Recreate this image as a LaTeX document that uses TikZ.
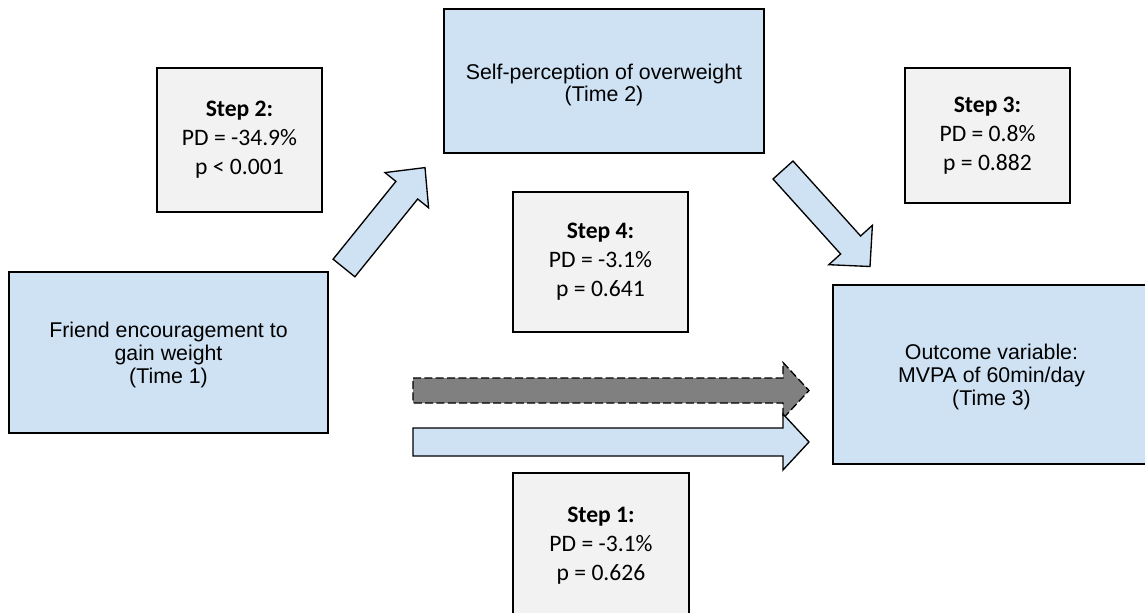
\documentclass[tikz,border=0pt]{standalone}
\usepackage{fontspec}
\setmainfont{Carlito}
\newfontfamily\arialf{Liberation Sans}
\definecolor{lblue}{HTML}{CFE2F3}
\definecolor{lgray}{HTML}{F2F2F2}
\definecolor{dgray}{HTML}{808080}
\begin{document}
\begin{tikzpicture}[x=0.75pt,y=-0.75pt,
  varbox/.style={draw=black, fill=lblue, line width=1pt, align=center, inner sep=0pt,
    font=\arialf\fontsize{16}{17}\selectfont},
  vartext/.style={align=center, inner sep=0pt, font=\arialf\fontsize{16}{17}\selectfont},
  stepbox/.style={draw=black, fill=lgray, line width=1pt, align=center, inner sep=0pt,
    font=\fontsize{17.7}{21.8}\selectfont},
  blockarrow/.style={draw=black, fill=lblue, line width=1pt, line join=miter},
  dasharrow/.style={draw=black, fill=dgray, line width=1pt, line join=miter, dash pattern=on 6pt off 2.5pt}]
\useasboundingbox (0,0) rectangle (1145,613);
\clip (0,0) rectangle (1145,613);

% variable boxes
\node[varbox, minimum width=239.25pt, minimum height=120.75pt] (friend) at (168.5,352.5) {};
\node[vartext] (friendtext) at (168.5,355) {Friend encouragement to\\gain weight\\(Time 1)};
\node[varbox, minimum width=240pt, minimum height=108pt] (sp) at (604,81) {};
\node[vartext] (sptext) at (604,85) {Self-perception of overweight\\(Time 2)};
\node[varbox, minimum width=237.75pt, minimum height=134.25pt] (outcome) at (991.5,374.5) {};
\node[vartext] (outcometext) at (991.5,377) {Outcome variable:\\MVPA of 60min/day\\(Time 3)};

% step boxes
\node[stepbox, minimum width=123.75pt, minimum height=108pt] (step2) at (239.5,140) {\textbf{Step 2:}\\PD = -34.9\%\\p < 0.001};
\node[stepbox, minimum width=131.25pt, minimum height=105pt] (step4) at (600.5,262) {\textbf{Step 4:}\\PD = -3.1\%\\p = 0.641};
\node[stepbox, minimum width=123.75pt, minimum height=101.25pt] (step3) at (987.5,135.5) {\textbf{Step 3:}\\PD = 0.8\%\\p = 0.882};
\node[stepbox, minimum width=132pt, minimum height=109.5pt] (step1) at (601,546) {\textbf{Step 1:}\\PD = -3.1\%\\p = 0.626};

% block arrows
\draw[blockarrow] (333.1,259.2) -- (395.9,181.4) -- (385.0,172.6) -- (425,167.6) -- (428.6,207.8) -- (417.7,199.0) -- (354.9,276.8) -- cycle;
\draw[blockarrow] (793,161) -- (860.6,236) -- (872.4,225.3) -- (870,266.5) -- (828.8,264.7) -- (840.6,254) -- (773,179) -- cycle;
\draw[dasharrow] (413,378) -- (783,378) -- (783,362.5) -- (809,390.5) -- (783,418.5) -- (783,403) -- (413,403) -- cycle;
\draw[blockarrow] (413,428) -- (783,428) -- (783,414) -- (809,442) -- (783,470) -- (783,456) -- (413,456) -- cycle;
\end{tikzpicture}
\end{document}
